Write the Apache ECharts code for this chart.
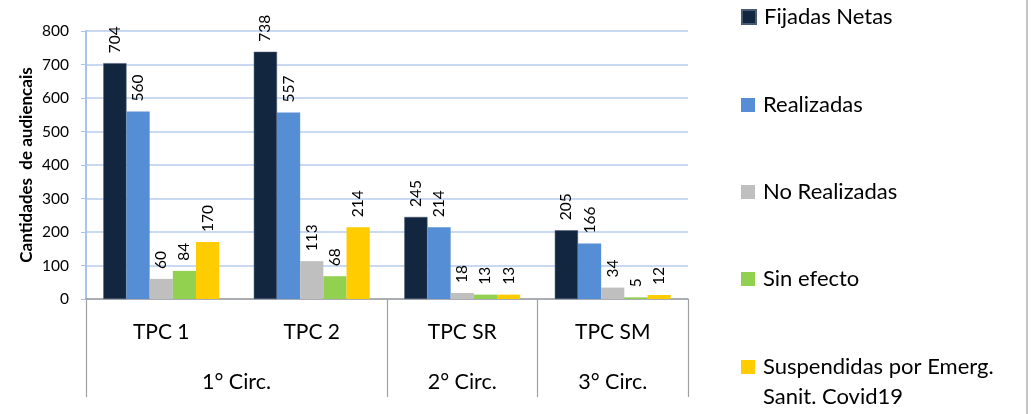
<!DOCTYPE html>
<html>
<head>
<meta charset="utf-8">
<script src="https://cdn.jsdelivr.net/npm/echarts@6/dist/echarts.min.js"></script>
<style>html,body{margin:0;padding:0;background:#fff}#c{width:1031px;height:414px}</style>
</head>
<body>
<div id="c"></div>
<script>
const categories = ['TPC 1', 'TPC 2', 'TPC SR', 'TPC SM'];
const groupNames = ['1° Circ.', '2° Circ.', '3° Circ.'];
const groupSizes = [2, 1, 1];
const seriesNames = ['Fijadas Netas', 'Realizadas', 'No Realizadas', 'Sin efecto', 'Suspendidas por Emerg.\nSanit. Covid19'];
const fijadasNetas = [704, 738, 245, 205];
const realizadas = [560, 557, 214, 166];
const noRealizadas = [60, 113, 18, 34];
const sinEfecto = [84, 68, 13, 5];
const suspendidas = [170, 214, 13, 12];
const yTicks = [0, 100, 200, 300, 400, 500, 600, 700, 800];
const colors = ['#132640', '#558ed5', '#bfbfbf', '#92d050', '#ffcc00'];

const seriesData = [fijadasNetas, realizadas, noRealizadas, sinEfecto, suspendidas];

// group boundaries and centers
const groupBounds = [0];
groupSizes.forEach((s, i) => groupBounds.push(groupBounds[i] + s));
const groupCenters = groupSizes.map((s, i) => groupBounds[i] + s / 2);

const FONT = 'Lato';
const chart = echarts.init(document.getElementById('c'));

const legendCenters = [17, 105, 192, 279, 367];
const legends = seriesNames.map((n, i) => {
  const multi = n.indexOf('\n') >= 0;
  return {
    data: [n],
    orient: 'vertical',
    left: 741,
    top: multi ? legendCenters[i] - 45 : legendCenters[i] - 15,
    padding: 0,
    itemWidth: 14,
    itemHeight: 14,
    icon: 'rect',
    selectedMode: false,
    formatter: name => (name.indexOf('\n') >= 0 ? ' \n' + name : name),
    textStyle: {
      fontFamily: FONT, fontSize: 22, color: '#000', lineHeight: 30,
      padding: [0, 0, 0, 3]
    }
  };
});

chart.setOption({
  animation: false,
  color: colors,
  textStyle: { fontFamily: FONT },
  grid: { left: 86, right: 343, top: 31, bottom: 115 },
  legend: legends,
  xAxis: [
    {
      type: 'category',
      data: categories,
      position: 'bottom',
      axisLine: { lineStyle: { color: '#a0a0a0', width: 1.5 } },
      axisTick: { show: false },
      axisLabel: { fontFamily: FONT, fontSize: 21, color: '#000', margin: 23 }
    },
    {
      type: 'value',
      position: 'bottom',
      min: 0,
      max: categories.length,
      axisLine: { show: false },
      splitLine: { show: false },
      axisTick: { show: true, customValues: groupBounds, length: 98, lineStyle: { color: '#a0a0a0', width: 1.2 } },
      axisLabel: {
        customValues: groupCenters,
        fontFamily: FONT, fontSize: 21.5, color: '#000', margin: 72,
        formatter: v => { const k = groupCenters.indexOf(v); return k >= 0 ? groupNames[k] : ''; }
      }
    }
  ],
  yAxis: {
    type: 'value',
    min: 0, max: 800, interval: 100,
    name: 'Cantidades  de audiencais',
    nameLocation: 'middle',
    nameGap: 51,
    nameMoveOverlap: false,
    nameTextStyle: { fontFamily: FONT, fontSize: 17, fontWeight: 'bold', color: '#000' },
    axisLine: { show: true, lineStyle: { color: '#a9c3ea', width: 2 } },
    axisTick: { show: true, length: 5, lineStyle: { color: '#a9c3ea' } },
    axisLabel: { fontFamily: FONT, fontSize: 15.5, color: '#000', margin: 17,
      formatter: v => yTicks.includes(v) ? String(v) : '' },
    splitLine: { lineStyle: { color: '#b8cdee', width: 1.5 } }
  },
  series: seriesData.map((d, i) => ({
    name: seriesNames[i],
    type: 'bar',
    data: d,
    barGap: '0%',
    barCategoryGap: '23%',
    itemStyle: { color: colors[i], borderColor: i === 0 ? '#4a5a70' : undefined, borderWidth: i === 0 ? 0.5 : 0 },
    label: {
      show: true, position: 'top', rotate: 90, align: 'left', verticalAlign: 'middle',
      distance: 10, fontFamily: FONT, fontSize: 15.5, color: '#000'
    }
  })),
  graphic: [{
    type: 'line', shape: { x1: 1027, y1: 0, x2: 1027, y2: 414 },
    style: { stroke: '#b0b0b0', lineWidth: 1.5 }
  }]
});
</script>
</body>
</html>
